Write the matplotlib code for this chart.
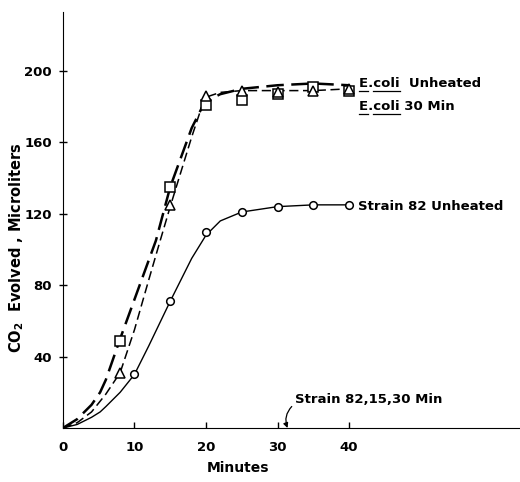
import matplotlib.pyplot as plt
from matplotlib.lines import Line2D

plt.rcParams['font.family'] = ['DejaVu Sans']
plt.rcParams['font.weight'] = 'bold'

# measured points
t_sq = [8, 15, 20, 25, 30, 35, 40]
y_sq = [49, 135, 181, 184, 187, 191, 189]       # E. coli unheated
t_tri = [8, 15, 20, 25, 30, 35, 40]
y_tri = [31, 125, 186, 189, 188, 189, 190]      # E. coli 30 min
t_circ = [10, 15, 20, 25, 30, 35, 40]
y_circ = [30, 71, 110, 121, 124, 125, 125]      # Strain 82 unheated

# hand-drawn smooth curves through the points
ct_sq = [0, 2, 4, 5.2, 6, 8, 10, 13, 15, 18, 19.5, 20.5, 22, 25, 30, 35, 40]
cy_sq = [0, 5, 13, 20, 27, 50, 72, 105, 135, 168, 180, 184, 187, 190, 192, 193, 192]
ct_tri = [0, 2, 4, 5.2, 6, 8, 10, 12, 13.6, 15, 18, 19.5, 20.5, 22, 25, 30, 35, 40]
cy_tri = [0, 3, 9, 15, 19, 31, 55, 83, 105, 124, 163, 181, 186, 188, 189, 189, 189, 190]
ct_circ = [0, 2, 4, 5.2, 6, 8, 10, 12, 15, 18, 20, 21, 22, 25, 30, 35, 40]
cy_circ = [0, 2, 6, 9, 12, 20, 30, 46, 71, 95, 108, 112, 116, 121, 124, 125, 125]

fig = plt.figure(figsize=(5.2, 4.82), dpi=100)
ax = fig.add_axes([0.121, 0.112, 0.879, 0.863])

ax.plot(ct_sq, cy_sq, color='black', lw=1.8, dashes=(7, 3))
ax.plot(ct_tri, cy_tri, color='black', lw=1.1, dashes=(6, 3))
ax.plot(ct_circ, cy_circ, color='black', lw=1.0)

ax.plot(t_sq, y_sq, ls='none', marker='s', ms=7, mfc='white', mec='black', mew=1.1)
ax.plot(t_tri, y_tri, ls='none', marker='^', ms=7.5, mfc='white', mec='black', mew=1.1)
ax.plot(t_circ, y_circ, ls='none', marker='o', ms=5.5, mfc='white', mec='black', mew=1.1)

ax.set_xlim(0, 63.9)
ax.set_ylim(0, 233)
ax.spines['top'].set_visible(False)
ax.spines['right'].set_visible(False)
ax.set_xticks([0, 10, 20, 30, 40])
ax.set_yticks([40, 80, 120, 160, 200])
ax.tick_params(axis='x', direction='in', length=4, width=1, labelsize=9.5, pad=9)
ax.tick_params(axis='y', direction='inout', length=6, width=1, labelsize=9.5, pad=5)

ax.set_xlabel('Minutes', fontsize=10, fontweight='bold', va='center')
ax.xaxis.set_label_coords(0.383, -0.095)
ax.set_ylabel('CO$_2$  Evolved , Microliters', fontsize=10.5, fontweight='bold', va='center')
ax.yaxis.set_label_coords(-0.102, 0.435)

kw = dict(fontsize=9.5, fontweight='bold', va='center')
ecoli_labels = [(193, 'E.coli  Unheated'), (180, 'E.coli 30 Min')]
ecoli_texts = [ax.text(41.4, y, s, **kw) for y, s in ecoli_labels]
ax.text(41.3, 124, 'Strain 82 Unheated', **kw)

ax.annotate('Strain 82,15,30 Min', xy=(31.4, 0), xytext=(32.4, 15.7),
            fontsize=9.5, fontweight='bold', ha='left', va='center',
            arrowprops=dict(arrowstyle='-|>', color='black', lw=0.9,
                            mutation_scale=7, shrinkA=0, shrinkB=0,
                            connectionstyle='arc3,rad=0.3',
                            relpos=(-0.02, 0.0)))

# underline "E" and "coli" (genus/species convention)
fig.canvas.draw()
r = fig.canvas.get_renderer()


def prefix_width(txt, s):
    t = ax.text(0, 0, s, fontsize=txt.get_fontsize(), fontweight='bold')
    w = t.get_window_extent(r).width
    t.remove()
    return w


inv = fig.transFigure.inverted()
for txt in ecoli_texts:
    bb = txt.get_window_extent(r)
    x0 = bb.x0
    w_e = prefix_width(txt, 'E')
    w_ed = prefix_width(txt, 'E.')
    w_edc = prefix_width(txt, 'E.coli')
    yline = bb.y0 - 1
    for a, b in [(0, w_e), (w_ed, w_edc)]:
        p0 = inv.transform((x0 + a, yline))
        p1 = inv.transform((x0 + b, yline))
        fig.add_artist(Line2D([p0[0], p1[0]], [p0[1], p1[1]], color='black', lw=0.9))

fig.savefig('out.png', dpi=100)
